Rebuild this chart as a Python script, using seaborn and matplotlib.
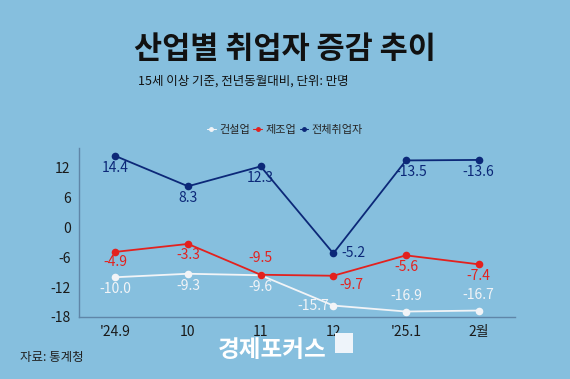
import matplotlib
matplotlib.use("Agg")
import matplotlib.pyplot as plt
import seaborn as sns
import pandas as pd
from matplotlib.lines import Line2D
from matplotlib.patches import Rectangle

months = ["'24.9", "10", "11", "12", "'25.1", "2월"]
construction = [-10.0, -9.3, -9.6, -15.7, -16.9, -16.7]
manufacturing = [-4.9, -3.3, -9.5, -9.7, -5.6, -7.4]
total = [14.4, 8.3, 12.3, -5.2, 13.5, 13.6]
total_labels = ["14.4", "8.3", "12.3", "-5.2", "-13.5", "-13.6"]
series_names = ["건설업", "제조업", "전체취업자"]
yticks = [12, 6, 0, -6, -12, -18]

sns.set_theme(style="white")
plt.rcParams['font.family'] = ['Noto Sans CJK KR', 'DejaVu Sans']
plt.rcParams['axes.unicode_minus'] = False

bg = "#86BFDE"
colors = {"건설업": "#F2F4F7", "제조업": "#E3211E", "전체취업자": "#0C2878"}

rows = []
for name, vals in zip(series_names, [construction, manufacturing, total]):
    for i, v in enumerate(vals):
        rows.append({"x": i, "month": months[i], "series": name, "value": v})
df = pd.DataFrame(rows)

fig = plt.figure(figsize=(5.7, 3.79), dpi=100, facecolor=bg)
ax = fig.add_axes([79/570, 1-317/379, (515-79)/570, (317-148)/379])
ax.set_facecolor(bg)

sns.lineplot(data=df, x="x", y="value", hue="series", hue_order=series_names,
             palette=colors, marker="o", markersize=5.5, markeredgewidth=0,
             linewidth=1.3, ax=ax, legend=False)

ax.set_xlim(-0.5, 5.5)
ax.set_ylim(-18, 16)
ax.set_xticks(range(len(months)))
ax.set_xticklabels(months)
ax.set_yticks(yticks)
ax.set_yticklabels([str(t) for t in yticks])
ax.tick_params(axis="both", length=0, labelsize=10, colors="#1a1a1a", pad=6)
ax.set_xlabel("")
ax.set_ylabel("")
for s in ["top", "right"]:
    ax.spines[s].set_visible(False)
for s in ["left", "bottom"]:
    ax.spines[s].set_color("#5F86A8")
    ax.spines[s].set_linewidth(1.0)

fs = 10
offs_total = [(0, -8.6), (0, -8.6), (0, -8.6), (14.5, 0), (4, -8.6), (0, -8.6)]
for i, (v, lab) in enumerate(zip(total, total_labels)):
    dx, dy = offs_total[i]
    ax.annotate(lab, (i, v), xytext=(dx, dy), textcoords="offset points",
                ha="center", va="center", fontsize=fs, color=colors["전체취업자"])
offs_man = [(0, -7.5), (0, -8), (0, 12), (13, -7), (0, -8.6), (0, -8.6)]
for i, v in enumerate(manufacturing):
    dx, dy = offs_man[i]
    ax.annotate(f"{v:.1f}", (i, v), xytext=(dx, dy), textcoords="offset points",
                ha="center", va="center", fontsize=fs, color=colors["제조업"])
offs_con = [(0, -8.6), (0, -8.6), (0, -8.6), (-14.5, 0), (0, 11), (0, 11)]
for i, v in enumerate(construction):
    dx, dy = offs_con[i]
    ax.annotate(f"{v:.1f}", (i, v), xytext=(dx, dy), textcoords="offset points",
                ha="center", va="center", fontsize=fs, color=colors["건설업"])

handles = [Line2D([0], [0], color=colors[n], marker="o", markersize=2.5, linewidth=0.8)
           for n in series_names]
fig.legend(handles, series_names, loc="center", bbox_to_anchor=(285/570, 1-130/379),
           ncol=3, frameon=False, prop={"size": 8, "weight": "medium"},
           handlelength=0.8, handletextpad=0.3, columnspacing=0.3)

fig.text(285/570, 1-49/379, "산업별 취업자 증감 추이", ha="center", va="center",
         fontsize=22, fontweight="bold", color="#111111")
fig.text(138/570, 1-81/379, "15세 이상 기준, 전년동월대비, 단위: 만명", ha="left", va="center",
         fontsize=9, fontweight="medium", color="#111111")
fig.text(20/570, 1-357/379, "자료: 통계청", ha="left", va="center", fontsize=9, color="#222222")
fig.text(218/570, 1-350/379, "경제포커스", ha="left", va="center", fontsize=17,
         fontweight="bold", color="#FFFFFF")
fig.patches.append(Rectangle((335/570, 1-353/379), 18/570, 20/379, transform=fig.transFigure,
                             facecolor="#EEF4FA", edgecolor="none"))

fig.savefig("out.png", dpi=100, facecolor=bg)
